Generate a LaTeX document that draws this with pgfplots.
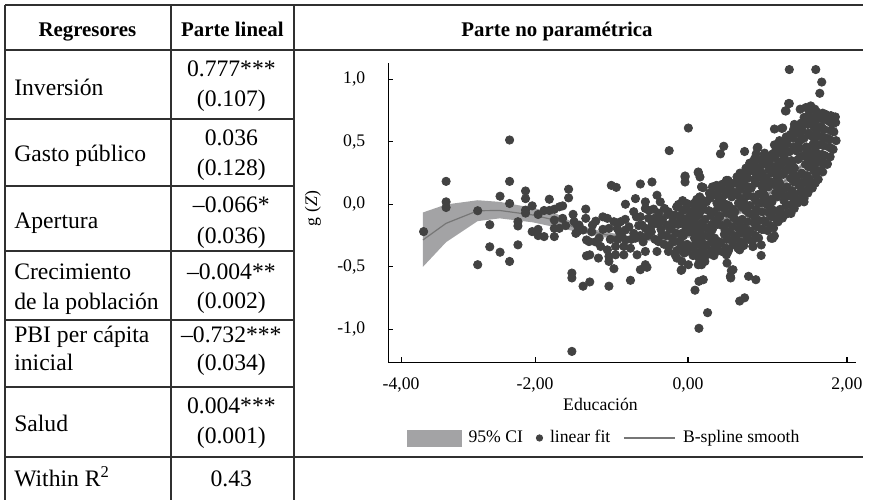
\documentclass[border=0pt]{standalone}
\usepackage{fontspec}
\setmainfont{Liberation Serif}
\usepackage{pgfplots}
\pgfplotsset{compat=1.18}
\usepgfplotslibrary{fillbetween}
\definecolor{dotc}{HTML}{424242}
\definecolor{bandc}{HTML}{A3A3A5}
\definecolor{linec}{HTML}{767676}
\definecolor{rulec}{HTML}{303030}
\newcommand{\tabfont}{\fontsize{11.9}{14}\selectfont}
\newcommand{\hdfont}{\fontsize{10.5}{12}\selectfont\bfseries}
\newcommand{\plotfont}{\fontsize{8.9}{10.5}\selectfont}
\begin{document}
\begin{tikzpicture}
\begin{scope}[x=0.5pt,y=-0.5pt]
\path (0,0) rectangle (869,504);
\draw[rulec, line width=0.9pt] (5,5) -- (869,5);
\draw[rulec, line width=0.9pt] (5,50) -- (869,50);
\draw[rulec, line width=0.9pt] (5,460) -- (869,460);
\foreach \yy in {120,187,253,322,390} {\draw[rulec, line width=0.9pt] (5,\yy) -- (296,\yy);}
\draw[rulec, line width=0.9pt] (5,5) -- (5,504);
\draw[rulec, line width=0.9pt] (172,5) -- (172,504);
\draw[rulec, line width=0.9pt] (296,5) -- (296,504);
% headers
\node[anchor=base, font=\hdfont, inner sep=0pt] at (88,37) {Regresores};
\node[anchor=base, font=\hdfont, inner sep=0pt] at (234,37) {Parte lineal};
\node[anchor=base, font=\hdfont, inner sep=0pt] at (561,37) {Parte no paramétrica};
% left column
\node[anchor=base west, font=\tabfont, inner sep=0pt] at (14,96) {Inversión};
\node[anchor=base west, font=\tabfont, inner sep=0pt] at (14,163) {Gasto público};
\node[anchor=base west, font=\tabfont, inner sep=0pt] at (14,230) {Apertura};
\node[anchor=base west, font=\tabfont, inner sep=0pt] at (14,282) {Crecimiento};
\node[anchor=base west, font=\tabfont, inner sep=0pt] at (14,312) {de la población};
\node[anchor=base west, font=\tabfont, inner sep=0pt] at (14,345) {PBI per cápita};
\node[anchor=base west, font=\tabfont, inner sep=0pt] at (14,373) {inicial};
\node[anchor=base west, font=\tabfont, inner sep=0pt] at (14,435) {Salud};
\node[anchor=base west, font=\tabfont, inner sep=0pt] at (14,490) {Within R\textsuperscript{2}};
% middle column
\node[anchor=base, font=\tabfont, inner sep=0pt] at (233,77) {0.777***};
\node[anchor=base, font=\tabfont, inner sep=0pt] at (233,107) {(0.107)};
\node[anchor=base, font=\tabfont, inner sep=0pt] at (233,147) {0.036};
\node[anchor=base, font=\tabfont, inner sep=0pt] at (233,177) {(0.128)};
\node[anchor=base, font=\tabfont, inner sep=0pt] at (233,214) {–0.066*};
\node[anchor=base, font=\tabfont, inner sep=0pt] at (233,245) {(0.036)};
\node[anchor=base, font=\tabfont, inner sep=0pt] at (233,282) {–0.004**};
\node[anchor=base, font=\tabfont, inner sep=0pt] at (233,311) {(0.002)};
\node[anchor=base, font=\tabfont, inner sep=0pt] at (233,345) {–0.732***};
\node[anchor=base, font=\tabfont, inner sep=0pt] at (233,373) {(0.034)};
\node[anchor=base, font=\tabfont, inner sep=0pt] at (233,416) {0.004***};
\node[anchor=base, font=\tabfont, inner sep=0pt] at (233,447) {(0.001)};
\node[anchor=base, font=\tabfont, inner sep=0pt] at (233,490) {0.43};
\end{scope}
\begin{axis}[
  at={(195.5pt,-182.5pt)}, anchor=south west,
  scale only axis, width=235.5pt, height=151pt,
  xmin=-4.081, xmax=2.195, ymin=-1.265, ymax=1.135,
  axis lines=left, axis line style={-, black, line width=0.7pt},
  xtick={-3.908,-2.109,-0.057,2.075},
  xticklabels={{-4,00},{-2,00},{0,00},{2,00}},
  ytick={-1,-0.5,0,0.5,1},
  yticklabels={{-1,0},{-0,5},{0,0},{0,5},{1,0}},
  tick align=inside, major tick length=2.5pt,
  tick style={black, line width=0.6pt},
  ticklabel style={font=\plotfont},
  yticklabel style={xshift=-8pt},
  xticklabel style={yshift=-4pt},
  xlabel={Educación}, ylabel={g (\textit{Z})},
  label style={font=\plotfont},
  xlabel style={at={(axis description cs:0.454,-0.159)}, anchor=base},
  ylabel style={at={(axis description cs:-0.161,0.513)}, anchor=center},
  legend columns=3,
  legend style={draw=none, fill=none, font=\plotfont,
    nodes={inner xsep=1pt},
    at={(axis description cs:0.462,-0.252)}, anchor=center,
    /tikz/every odd column/.append style={column sep=2.5pt},
    /tikz/every even column/.append style={column sep=5.5pt}},
]
\addlegendimage{legend image code/.code={\fill[bandc] (0pt,-4pt) rectangle (27pt,4pt);}}
\addlegendimage{legend image code/.code={\fill[dotc] (3pt,0pt) circle (1.6pt);}}
\addlegendimage{legend image code/.code={\draw[linec, line width=0.6pt] (0pt,0pt) -- (26pt,0pt);}}
\legend{95\% CI, linear fit, B-spline smooth}

% 95% CI band
\addplot[name path=up, draw=none, forget plot] coordinates {
(-3.615,-0.065) (-3.305,-0.001) (-2.88,0.033) (-2.585,0.020) (-2.14,-0.028) (-1.83,-0.073)
(-1.52,-0.170) (-1.2,-0.218) (-0.85,-0.252) (-0.41,-0.258) (-0.05,-0.232) (0.17,-0.205)
(0.39,-0.120) (0.6,-0.051) (0.835,0.013) (1.06,0.119) (1.28,0.224) (1.45,0.319)
(1.635,0.440) (1.78,0.548) (1.94,0.675)};
\addplot[name path=lo, draw=none, forget plot] coordinates {
(-3.615,-0.500) (-3.305,-0.303) (-2.88,-0.134) (-2.585,-0.112) (-2.14,-0.144) (-1.83,-0.184)
(-1.52,-0.222) (-1.2,-0.262) (-0.85,-0.290) (-0.41,-0.296) (-0.05,-0.268) (0.17,-0.243)
(0.39,-0.158) (0.6,-0.089) (0.835,-0.025) (1.06,0.081) (1.28,0.186) (1.45,0.281)
(1.635,0.392) (1.78,0.492) (1.94,0.605)};
\addplot[bandc, forget plot] fill between[of=up and lo];

% scatter
\addplot[only marks, mark=*, mark size=2.1pt, color=dotc, forget plot] coordinates {
(-3.606,-0.218) (-3.304,0.184) (-3.304,0.02) (-3.304,-0.025) (-2.88,-0.051) (-2.88,-0.483)
(-2.718,-0.163) (-2.718,-0.34) (-2.58,0.065) (-2.58,-0.383) (-2.452,0.515) (-2.452,0.184)
(-2.452,0.007) (-2.452,-0.457) (-2.34,-0.139) (-2.34,-0.173) (-2.34,-0.324) (-2.238,0.107)
(-2.238,0.046) (-2.238,-0.046) (-2.238,-0.07) (-2.149,-0.012) (-2.149,-0.218) (-2.069,-0.081)
(-2.069,-0.2) (-2.069,-0.25) (-1.989,-0.049) (-1.989,-0.258) (-1.919,0.041) (-1.919,-0.049)
(-1.852,-0.039) (-1.852,-0.126) (-1.852,-0.192) (-1.852,-0.258) (-1.785,-0.02) (-1.74,-0.012)
(-1.66,0.121) (-1.66,0.052) (-1.74,-0.112) (-1.785,-0.192) (-1.616,-0.55) (-1.616,-0.589)
(-1.616,-1.177) (-1.586,-0.139) (-1.563,-0.232) (-1.54,-0.173) (-1.54,-0.218) (-1.52,-0.166)
(-1.466,-0.205) (-1.466,-0.655) (-1.43,-0.038) (-1.43,-0.112) (-1.42,-0.285) (-1.386,-0.298)
(-1.42,-0.412) (-1.376,-0.404) (-1.376,-0.621) (-1.34,-0.166) (-1.296,-0.134) (-1.26,-0.43)
(-1.23,-0.337) (-1.14,-0.112) (-1.14,-0.364) (-1.119,-0.192) (-1.119,-0.417) (-1.119,-0.457)
(-1.119,-0.655) (-1.087,0.152) (-1.052,-0.139) (-1.052,-0.515) (-1.03,-0.337) (-1.03,-0.404)
(-1.02,0.136) (-1.007,-0.192) (-0.963,-0.139) (-0.919,-0.337) (-0.919,-0.404) (-0.897,0.001)
(-0.897,-0.205) (-0.897,-0.285) (-0.83,-0.351) (-0.83,-0.608) (-0.786,-0.059) (-0.786,-0.232)
(-0.763,0.046) (-0.763,-0.271) (-0.741,-0.404) (-0.697,0.163) (-0.697,-0.099) (-0.697,-0.523)
(-0.674,-0.166) (-0.63,0.02) (-0.63,-0.033) (-0.63,-0.192) (-0.63,-0.377) (-0.63,-0.483)
(-0.608,-0.504) (-0.586,-0.112) (-0.541,0.179) (-0.541,-0.166) (-0.52,-0.038) (-0.474,0.073)
(-0.474,-0.377) (-0.453,-0.16) (-0.453,-0.298) (-0.43,0.02) (-0.408,-0.245) (-0.373,-0.033)
(-0.341,-0.166) (-0.32,-0.377) (-0.31,0.43) (-0.23,-0.086) (-0.208,-0.43) (-0.186,-0.001)
(-0.15,-0.528) (-0.141,-0.232) (-0.141,-0.523) (-0.12,-0.139) (-0.097,0.227) (-0.097,0.179)
(-0.097,-0.351) (-0.075,0.007) (-0.053,0.611) (-0.053,-0.483) (-0.008,-0.112) (-0.008,-0.192)
(0.036,-0.007) (0.036,-0.324) (0.036,-0.687) (0.08,0.253) (0.08,-0.086) (0.08,-0.483)
(0.089,-0.616) (0.089,-0.992) (0.103,-0.218) (0.125,0.14) (0.125,-0.271) (0.125,-0.483)
(0.147,-0.603) (0.169,-0.457) (0.205,-0.867) (0.28,-0.404) (0.378,0.404) (0.422,0.465)
(0.458,-0.404) (0.466,-0.47) (0.511,-0.576) (0.524,-0.531) (0.546,-0.523) (0.516,-0.589)
(0.636,-0.364) (0.636,-0.774) (0.702,-0.748) (0.702,0.423) (0.755,-0.576) (0.813,-0.337)
(0.835,0.364) (0.853,-0.603) (0.924,-0.409) (1.058,-0.271) (1.08,0.404) (1.102,0.603)
(1.102,0.476) (1.102,0.378) (1.102,-0.253) (1.213,0.611) (1.249,0.748) (1.302,0.807)
(1.302,1.079) (1.657,1.079) (1.737,0.979) (1.711,0.889)
(-0.75,-0.1) (-0.72,-0.17) (-0.7,-0.25) (-0.66,-0.3) (-0.6,-0.25) (-0.58,-0.05) (-0.55,-0.22)
(-0.5,-0.11) (-0.5,-0.28) (-0.45,-0.07) (-0.42,-0.2) (-0.4,-0.12) (-0.38,-0.32) (-0.35,-0.25)
(-0.33,-0.08) (-0.9,-0.12) (-0.85,-0.18) (-0.82,-0.28) (-0.95,-0.25) (-1.0,-0.28) (-1.2,-0.2)
(-1.25,-0.27) (-1.3,-0.3) (-1.35,-0.22) (-1.6,-0.08) (-1.7,-0.17) (-1.2,-0.1) (-1.1,-0.28)
(-0.98,-0.22)
(0.88,0.457) (0.858,0.404) (1.18,0.449) (1.2,0.608) (0.125,0.139) (0.236,0.086) (0.325,0.152)
(0.48,0.192) (0.502,0.152) (0.746,0.259) (0.835,0.311) (0.902,0.271) (1.258,0.748) (1.293,0.807)
(1.448,0.762) (1.524,0.775) (1.59,0.788) (1.644,0.762) (1.5,0.696) (1.412,0.629) (1.79,0.682)
(1.857,0.688) (1.924,0.656) (1.368,0.57) (1.768,0.39) (1.813,0.325) (1.724,0.271) (1.458,0.152)
(1.546,0.1) (1.5,0.046) (1.5,0.02) (1.368,-0.033) (1.324,-0.073) (1.08,-0.271) (0.925,-0.325)
(0.813,-0.337) (0.613,-0.351) (0.48,-0.377) (0.302,-0.351) (0.125,-0.325) (0.036,-0.404)
(0.125,-0.43) (-0.141,-0.457) (-0.075,-0.377) (-0.23,-0.404)
(0.08,0.259) (-0.097,0.219) (0.103,0.219) (0.147,0.134) (0.458,0.192) (0.871,0.452) (0.969,0.364)
(-0.31,-0.33) (-0.27,-0.27) (-0.3,-0.2) (-0.26,-0.13) (-0.32,-0.06)
(-0.21,-0.37) (-0.17,-0.3) (-0.22,-0.23) (-0.19,-0.16) (-0.16,-0.09) (-0.21,-0.02)
(-0.11,-0.39) (-0.07,-0.32) (-0.12,-0.25) (-0.09,-0.18) (-0.06,-0.11) (-0.1,-0.04) (-0.13,0.03)
(0.01,-0.41) (-0.02,-0.34) (0.03,-0.27) (0.0,-0.2) (0.02,-0.13) (-0.01,-0.06) (0.03,0.01)
(0.09,-0.43) (0.13,-0.36) (0.1,-0.29) (0.07,-0.22) (0.12,-0.15) (0.09,-0.08) (0.13,-0.01) (0.1,0.06)
(0.21,-0.4) (0.18,-0.33) (0.23,-0.26) (0.2,-0.19) (0.17,-0.12) (0.22,-0.05) (0.19,0.02) (0.23,0.09)
(0.29,-0.41) (0.33,-0.34) (0.3,-0.27) (0.27,-0.2) (0.32,-0.13) (0.29,-0.06) (0.33,0.01) (0.3,0.08) (0.27,0.14)
(0.41,-0.38) (0.38,-0.31) (0.43,-0.24) (0.4,-0.17) (0.37,-0.1) (0.42,-0.03) (0.39,0.04) (0.43,0.11) (0.4,0.16)
(0.49,-0.36) (0.53,-0.29) (0.5,-0.22) (0.47,-0.15) (0.52,-0.08) (0.49,-0.01) (0.53,0.06) (0.5,0.13) (0.47,0.18)
(0.61,-0.34) (0.58,-0.27) (0.63,-0.2) (0.6,-0.13) (0.57,-0.06) (0.62,0.01) (0.59,0.08) (0.63,0.15) (0.6,0.22)
(0.69,-0.33) (0.73,-0.26) (0.7,-0.19) (0.67,-0.12) (0.72,-0.05) (0.69,0.02) (0.73,0.09) (0.7,0.16) (0.67,0.23) (0.72,0.29)
(0.81,-0.29) (0.78,-0.22) (0.83,-0.15) (0.8,-0.08) (0.77,-0.01) (0.82,0.06) (0.79,0.13) (0.83,0.2) (0.8,0.27) (0.77,0.33)
(0.89,-0.27) (0.93,-0.2) (0.9,-0.13) (0.87,-0.06) (0.92,0.01) (0.89,0.08) (0.93,0.15) (0.9,0.22) (0.87,0.29) (0.92,0.35)
(1.01,-0.21) (0.98,-0.14) (1.03,-0.07) (1.0,0.0) (0.97,0.07) (1.02,0.14) (0.99,0.21) (1.03,0.28) (1.0,0.35) (0.97,0.41)
(1.09,-0.19) (1.13,-0.12) (1.1,-0.05) (1.07,0.02) (1.12,0.09) (1.09,0.16) (1.13,0.23) (1.1,0.3) (1.07,0.37) (1.12,0.43)
(1.21,-0.11) (1.18,-0.04) (1.23,0.03) (1.2,0.1) (1.17,0.17) (1.22,0.24) (1.19,0.31) (1.23,0.38) (1.2,0.45) (1.17,0.51)
(1.29,-0.07) (1.33,0.0) (1.3,0.07) (1.27,0.14) (1.32,0.21) (1.29,0.28) (1.33,0.35) (1.3,0.42) (1.27,0.49) (1.32,0.56)
(1.41,0.01) (1.38,0.08) (1.43,0.15) (1.4,0.22) (1.37,0.29) (1.42,0.36) (1.39,0.43) (1.43,0.5) (1.4,0.57) (1.37,0.64)
(1.49,0.04) (1.53,0.11) (1.5,0.18) (1.47,0.25) (1.52,0.32) (1.49,0.39) (1.53,0.46) (1.5,0.53) (1.47,0.6) (1.52,0.67)
(1.61,0.13) (1.58,0.2) (1.63,0.27) (1.6,0.34) (1.57,0.41) (1.62,0.48) (1.59,0.55) (1.63,0.62) (1.6,0.69) (1.57,0.75)
(1.69,0.2) (1.73,0.27) (1.7,0.34) (1.67,0.41) (1.72,0.48) (1.69,0.55) (1.73,0.62) (1.7,0.69) (1.67,0.74)
(1.81,0.32) (1.78,0.39) (1.83,0.46) (1.8,0.53) (1.77,0.6) (1.82,0.67) (1.79,0.72)
(1.89,0.44) (1.93,0.51) (1.9,0.58) (1.87,0.65) (1.92,0.7)
(-0.25,-0.3) (-0.24,-0.16) (-0.26,-0.09)
(-0.15,-0.33) (-0.14,-0.26) (-0.15,-0.12) (-0.13,-0.05)
(-0.05,-0.36) (-0.04,-0.22) (-0.05,-0.15) (-0.03,-0.08) (-0.05,0.0)
(0.05,-0.38) (0.06,-0.31) (0.04,-0.24) (0.06,-0.17) (0.05,-0.1) (0.05,-0.03) (0.06,0.04)
(0.15,-0.39) (0.16,-0.32) (0.14,-0.25) (0.16,-0.18) (0.15,-0.04) (0.15,0.03)
(0.25,-0.37) (0.26,-0.3) (0.24,-0.23) (0.26,-0.16) (0.25,-0.09) (0.24,0.05)
(0.35,-0.37) (0.36,-0.3) (0.34,-0.16) (0.36,-0.09) (0.35,-0.02) (0.35,0.06) (0.36,0.12)
(0.45,-0.35) (0.46,-0.28) (0.44,-0.21) (0.46,-0.07) (0.45,0.0) (0.45,0.08)
(0.55,-0.32) (0.56,-0.25) (0.54,-0.18) (0.56,-0.11) (0.55,-0.04) (0.55,0.1) (0.56,0.17)
(0.65,-0.3) (0.66,-0.23) (0.64,-0.16) (0.66,-0.02) (0.65,0.05) (0.65,0.12) (0.66,0.19) (0.64,0.25)
(0.75,-0.28) (0.76,-0.21) (0.74,-0.14) (0.76,-0.07) (0.75,0.07) (0.76,0.14) (0.74,0.21) (0.76,0.28)
(0.85,-0.25) (0.86,-0.18) (0.84,-0.11) (0.86,-0.04) (0.85,0.03) (0.85,0.17) (0.86,0.24) (0.84,0.31)
(0.95,-0.2) (0.96,-0.13) (0.94,-0.06) (0.96,0.04) (0.95,0.11) (0.96,0.18) (0.94,0.25) (0.95,0.32) (0.96,0.38)
(1.05,-0.17) (1.06,-0.1) (1.04,-0.03) (1.06,0.04) (1.05,0.18) (1.06,0.25) (1.04,0.32) (1.05,0.39)
(1.15,-0.14) (1.16,-0.07) (1.14,0.06) (1.16,0.13) (1.15,0.2) (1.14,0.27) (1.16,0.34) (1.15,0.41) (1.16,0.47)
(1.25,-0.08) (1.26,-0.01) (1.24,0.06) (1.26,0.13) (1.25,0.27) (1.26,0.34) (1.24,0.41) (1.25,0.47) (1.26,0.54)
(1.35,-0.02) (1.36,0.05) (1.34,0.11) (1.36,0.18) (1.35,0.25) (1.34,0.32) (1.36,0.46) (1.35,0.53) (1.36,0.6)
(1.45,0.04) (1.46,0.1) (1.44,0.17) (1.46,0.24) (1.45,0.38) (1.44,0.45) (1.46,0.52) (1.45,0.58) (1.46,0.65)
(1.55,0.09) (1.56,0.16) (1.54,0.23) (1.56,0.3) (1.55,0.37) (1.54,0.44) (1.56,0.57) (1.55,0.64) (1.56,0.71)
(1.65,0.17) (1.66,0.24) (1.64,0.31) (1.66,0.38) (1.65,0.45) (1.64,0.52) (1.66,0.59) (1.65,0.66) (1.66,0.72)
(1.75,0.26) (1.76,0.33) (1.74,0.4) (1.76,0.47) (1.75,0.54) (1.74,0.61) (1.76,0.68) (1.75,0.73)
(1.85,0.38) (1.86,0.45) (1.84,0.52) (1.86,0.59) (1.85,0.66) (1.86,0.71)
};

% B-spline smooth
\addplot[linec, line width=0.6pt, forget plot] coordinates {
(-3.615,-0.285) (-3.305,-0.152) (-2.88,-0.051) (-2.585,-0.049) (-2.14,-0.085) (-1.83,-0.128)
(-1.52,-0.196) (-1.2,-0.24) (-0.85,-0.271) (-0.41,-0.277) (-0.05,-0.25) (0.17,-0.224)
(0.39,-0.139) (0.6,-0.07) (0.835,-0.006) (1.06,0.10) (1.28,0.205) (1.45,0.30)
(1.635,0.417) (1.78,0.52) (1.94,0.64)};
\end{axis}
\end{tikzpicture}
\end{document}
